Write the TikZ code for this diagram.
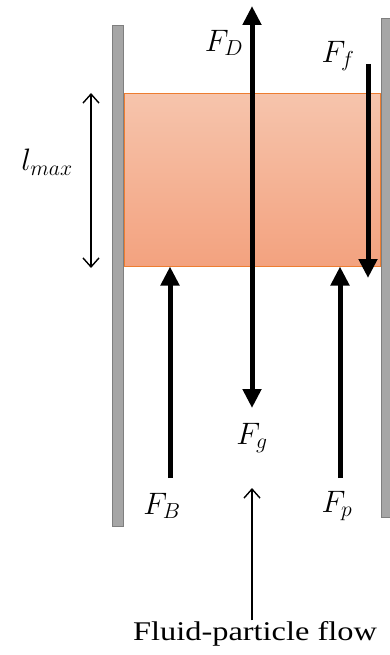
\RequirePackage{fix-cm}
\documentclass[tikz,border=0pt]{standalone}
\usepackage{fontspec}
\setmainfont{Liberation Serif}
\usetikzlibrary{arrows.meta, positioning}
\definecolor{cwall}{HTML}{A6A6A6}
\definecolor{cwalledge}{HTML}{7F7F7F}
\definecolor{cedge}{HTML}{ED7D31}
\definecolor{ctop}{HTML}{F6C4AC}
\definecolor{cbot}{HTML}{F3A27F}
\tikzset{
  wall/.style={draw=cwalledge, fill=cwall, line width=0.8pt, minimum width=11pt, inner sep=0pt},
  force/.style={-{Triangle[length=19pt, width=18pt]}, line width=5pt},
  thin/.style={{Straight Barb[length=9pt, width=16pt]}-{Straight Barb[length=9pt, width=16pt]}, line width=1.4pt},
  lbl/.style={font=\fontsize{31}{33}\selectfont, inner sep=0pt},
}

\begin{document}
\begin{tikzpicture}[x=1pt, y=-1pt]
  \useasboundingbox (0,0) rectangle (390,655);

  % walls
  \node[wall, minimum height=501pt] (lwall) at (118,275.5) {};
  \node[wall, minimum height=499pt] (rwall) at (386.5,267.5) {};

  % particle layer
  \node[draw=cedge, line width=1pt, top color=ctop, bottom color=cbot,
        minimum width=256pt, minimum height=172pt, inner sep=0pt] (blk) at (252,180) {};

  % layer thickness
  \coordinate (ltop) at (91,93);
  \coordinate (lbot) at (91,268);
  \draw[thin] (ltop) -- (lbot);
  \node[lbl] (lmax) at (47,162) {$l_{max}$};

  % forces
  \coordinate (dtop) at (252,6);
  \coordinate (gbot) at (252,408);
  \draw[force, {Triangle[length=19pt, width=18pt]}-{Triangle[length=19pt, width=18pt]}] (gbot) -- (dtop);
  \node[lbl] (fd) at (224,43) {$F_D$};
  \node[lbl] (fg) at (252,438) {$F_g$};

  \coordinate (ftop) at (368,64);
  \coordinate (fbot) at (368,278);
  \draw[force] (ftop) -- (fbot);
  \node[lbl] (ff) at (338,56) {$F_f$};

  \coordinate (bbot) at (170,478);
  \draw[force] (bbot) -- (bbot |- blk.south);
  \node[lbl] (fb) at (162,506) {$F_B$};

  \coordinate (pbot) at (340,478);
  \draw[force] (pbot) -- (pbot |- blk.south);
  \node[lbl] (fp) at (337,506) {$F_p$};

  % flow
  \node[font=\fontsize{27}{29}\selectfont, xscale=1.2, transform shape, inner sep=1pt] (flow) at (255,634) {Fluid-particle flow};
  \coordinate (flowtip) at (252,488);
  \draw[-{Straight Barb[length=9pt, width=16pt]}, line width=1.4pt] (flow.north -| flowtip) -- (flowtip);
\end{tikzpicture}
\end{document}
